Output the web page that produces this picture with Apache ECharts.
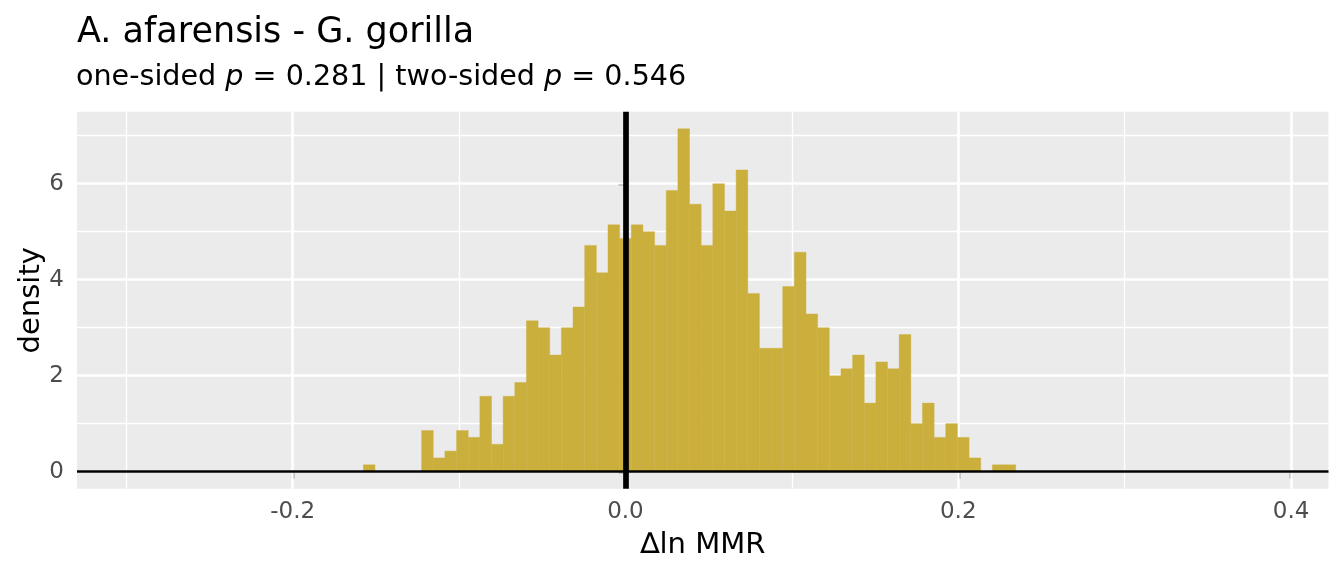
<!DOCTYPE html>
<html>
<head>
<meta charset="utf-8">
<script src="https://cdn.jsdelivr.net/npm/echarts@6/dist/echarts.min.js"></script>
<style>
  html, body { margin: 0; padding: 0; background: #ffffff; }
  #chart { width: 1344px; height: 576px; }
</style>
</head>
<body>
<div id="chart"></div>
<script>
// ---- data ----
const titleText = "A. afarensis - G. gorilla";
const oneSidedP = "0.281";
const twoSidedP = "0.546";
const xAxisTitle = "\u2206ln MMR";
const yAxisTitle = "density";

const binWidth = 0.007;
const binCenters = [
  -0.154, -0.147, -0.140, -0.133, -0.126, -0.119, -0.112, -0.105, -0.098, -0.091,
  -0.084, -0.077, -0.070, -0.063, -0.056, -0.049, -0.042, -0.035, -0.028, -0.021,
  -0.014, -0.007, 0.000, 0.007, 0.014, 0.021, 0.028, 0.035, 0.042, 0.049,
  0.056, 0.063, 0.070, 0.077, 0.084, 0.091, 0.098, 0.105, 0.112, 0.119,
  0.126, 0.133, 0.140, 0.147, 0.154, 0.161, 0.168, 0.175, 0.182, 0.189,
  0.196, 0.203, 0.210, 0.217, 0.224, 0.231
];
const densities = [
  0.143, 0, 0, 0, 0, 0.857, 0.286, 0.429, 0.857, 0.714,
  1.571, 0.571, 1.571, 1.857, 3.143, 3.000, 2.429, 3.000, 3.429, 4.714,
  4.143, 5.143, 4.857, 5.143, 5.000, 4.714, 5.857, 7.143, 5.571, 4.714,
  6.000, 5.429, 6.286, 3.714, 2.571, 2.571, 3.857, 4.571, 3.286, 3.000,
  2.000, 2.143, 2.429, 1.429, 2.286, 2.143, 2.857, 1.000, 1.429, 0.714,
  1.000, 0.714, 0.286, 0, 0.143, 0.143
];

const xMajorTicks = [-0.2, 0.0, 0.2, 0.4];
const xMinorTicks = [-0.3, -0.1, 0.1, 0.3];
const yMajorTicks = [0, 2, 4, 6];
const yMinorTicks = [1, 3, 5, 7];
const xRange = [-0.3296, 0.4225];
const yRange = [-0.357, 7.5];
const refX = 0;
const refY = 0;

// ---- styles ----
const barColor = "#CBAF3C";
const panelBg = "#EBEBEB";
const fontFamily = "'DejaVu Sans', 'Noto Sans', sans-serif";
const tickLabelColor = "#4D4D4D";
const tickColor = "#333333";

const histData = binCenters.map((c, i) => [c, densities[i]]);

const gridLines = []
  .concat(xMajorTicks.map(v => ({ xAxis: v, lineStyle: { width: 2.6 } })))
  .concat(xMinorTicks.map(v => ({ xAxis: v, lineStyle: { width: 1.3 } })))
  .concat(yMajorTicks.map(v => ({ yAxis: v, lineStyle: { width: 2.6 } })))
  .concat(yMinorTicks.map(v => ({ yAxis: v, lineStyle: { width: 1.3 } })));

const chart = echarts.init(document.getElementById('chart'), null, { renderer: 'canvas' });

const option = {
  animation: false,
  backgroundColor: '#ffffff',
  textStyle: { fontFamily: fontFamily },
  title: [
    {
      text: titleText,
      left: 77, top: 15, padding: 0,
      textStyle: { fontFamily: fontFamily, fontSize: 35, fontWeight: 'normal', color: '#000000' }
    },
    {
      text: '{n|one-sided }{i|p}{n| = ' + oneSidedP + ' | two-sided }{i|p}{n| = ' + twoSidedP + '}',
      left: 76, top: 63, padding: 0,
      textStyle: {
        fontWeight: 'normal',
        fontSize: 28.6,
        rich: {
          n: { fontFamily: fontFamily, fontSize: 28.6, fontWeight: 'normal', color: '#000000' },
          i: { fontFamily: fontFamily, fontSize: 28.6, fontWeight: 'normal', fontStyle: 'italic', color: '#000000' }
        }
      }
    }
  ],
  grid: {
    left: 77, right: 15.5, top: 111.7, bottom: 87.2,
    show: true, backgroundColor: panelBg, borderWidth: 0
  },
  xAxis: {
    type: 'value',
    min: xRange[0], max: xRange[1],
    name: xAxisTitle,
    nameLocation: 'middle',
    nameGap: 42,
    nameMoveOverlap: false,
    nameTextStyle: { fontFamily: fontFamily, fontSize: 29, color: '#000000' },
    axisLine: { show: false },
    axisTick: { show: true, length: 7, customValues: xMajorTicks, lineStyle: { color: tickColor, width: 2.4 } },
    axisLabel: {
      customValues: xMajorTicks,
      fontFamily: fontFamily, fontSize: 23, color: tickLabelColor, margin: 11.5,
      formatter: v => v.toFixed(1)
    },
    splitLine: { show: false },
    minorSplitLine: { show: false }
  },
  yAxis: {
    type: 'value',
    min: yRange[0], max: yRange[1],
    name: yAxisTitle,
    nameLocation: 'middle',
    nameGap: 31,
    nameMoveOverlap: false,
    nameRotate: 90,
    nameTextStyle: { fontFamily: fontFamily, fontSize: 29, color: '#000000' },
    axisLine: { show: false },
    axisTick: { show: true, length: 7, customValues: yMajorTicks, lineStyle: { color: tickColor, width: 2.4 } },
    axisLabel: {
      customValues: yMajorTicks,
      fontFamily: fontFamily, fontSize: 23, color: tickLabelColor, margin: 13,
      formatter: v => String(v)
    },
    splitLine: { show: false },
    minorSplitLine: { show: false }
  },
  series: [
    {
      // panel grid lines (drawn beneath the bars)
      type: 'line',
      data: [],
      silent: true,
      z: 1,
      markLine: {
        z: 1,
        silent: true,
        symbol: ['none', 'none'],
        label: { show: false },
        lineStyle: { color: '#ffffff', type: 'solid' },
        emphasis: { disabled: true },
        data: gridLines
      }
    },
    {
      type: 'custom',
      z: 2,
      data: histData,
      encode: { x: 0, y: 1 },
      renderItem: function (params, api) {
        const c = api.value(0);
        const h = api.value(1);
        if (!h) return null;
        const p0 = api.coord([c - binWidth / 2, h]);
        const p1 = api.coord([c + binWidth / 2, 0]);
        return {
          type: 'rect',
          shape: { x: p0[0], y: p0[1], width: p1[0] - p0[0], height: p1[1] - p0[1] },
          style: { fill: barColor, stroke: barColor, lineWidth: 0.4 }
        };
      },
      markLine: {
        z: 5,
        silent: true,
        symbol: ['none', 'none'],
        label: { show: false },
        emphasis: { disabled: true },
        data: [
          { yAxis: refY, lineStyle: { color: '#000000', width: 2.5, type: 'solid' } },
          { xAxis: refX, lineStyle: { color: '#000000', width: 5.7, type: 'solid' } }
        ]
      }
    }
  ]
};

chart.setOption(option);
</script>
</body>
</html>
